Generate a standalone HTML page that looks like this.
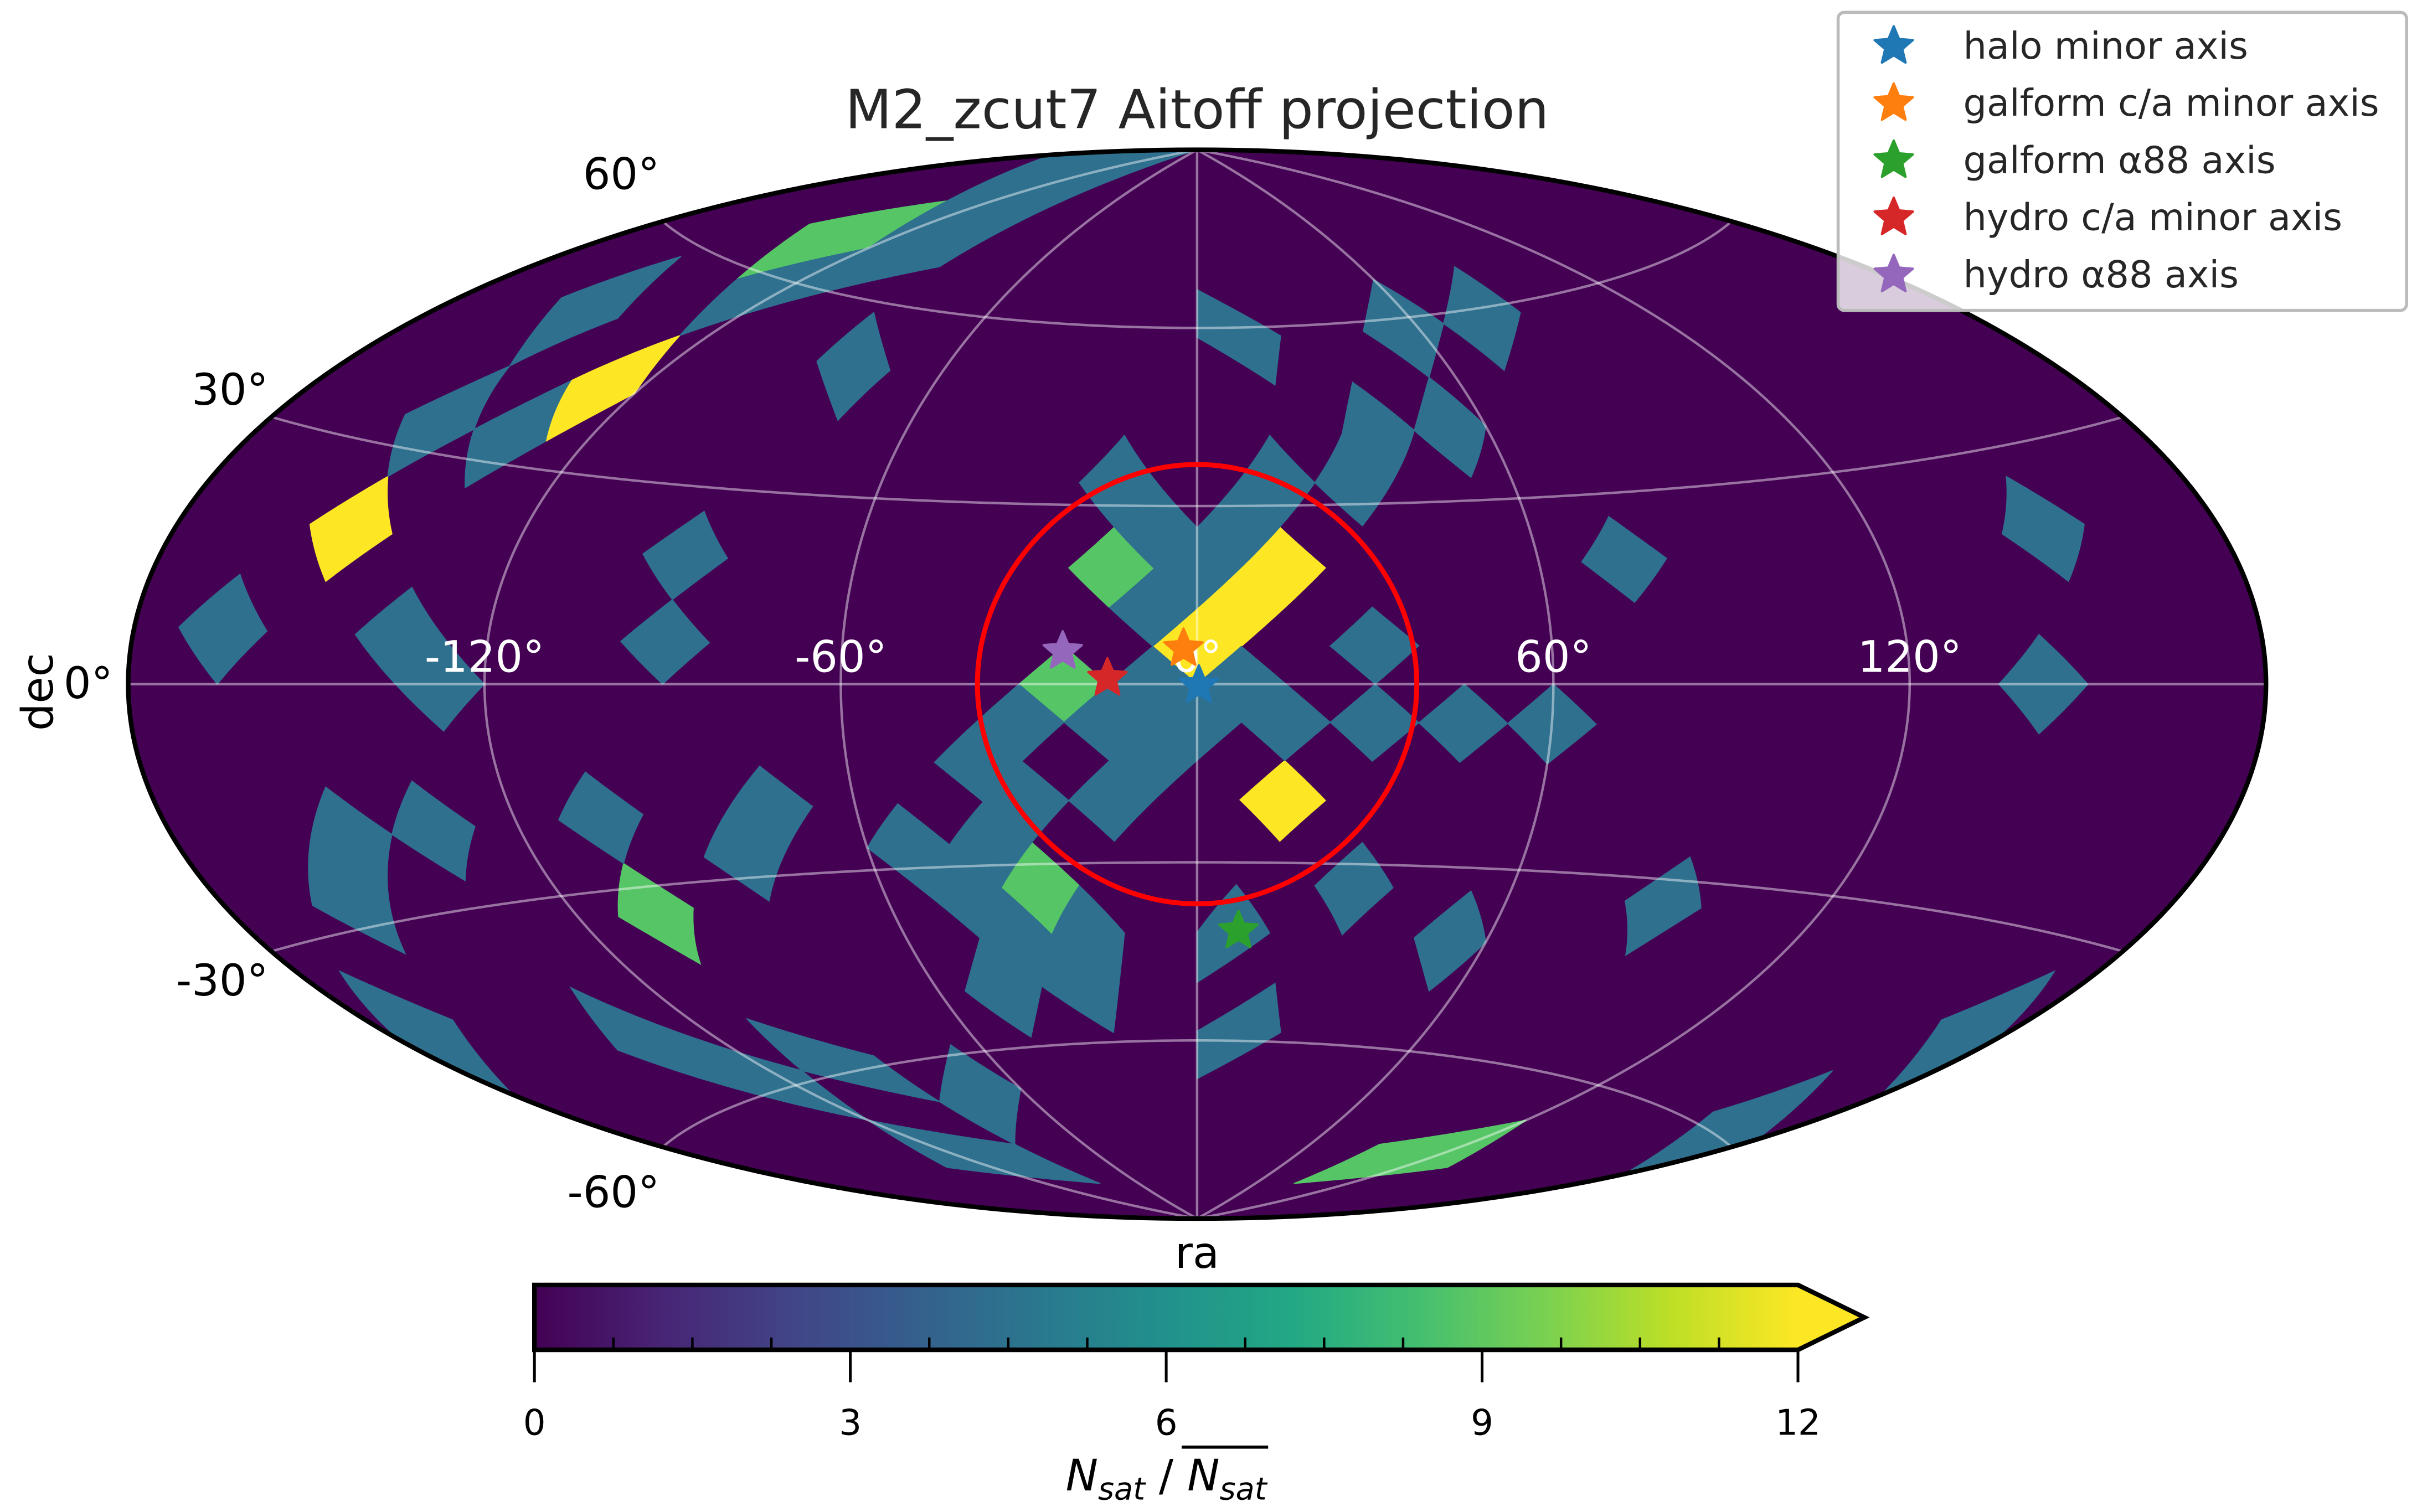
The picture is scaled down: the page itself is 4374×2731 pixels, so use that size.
<!DOCTYPE html>
<html><head><meta charset="utf-8"><style>
html,body{margin:0;padding:0;background:#fff;}
svg{display:block;font-family:"DejaVu Sans","Liberation Sans",sans-serif;}
</style></head><body>
<svg id="fig" xmlns="http://www.w3.org/2000/svg" width="4374" height="2731" viewBox="0 0 1568 979" preserveAspectRatio="none">
<defs>
<clipPath id="ellclip"><ellipse cx="775" cy="443" rx="692" ry="346"/></clipPath>
<linearGradient id="viridisGrad" x1="346" y1="0" x2="1164" y2="0" gradientUnits="userSpaceOnUse">
<stop offset="0" stop-color="#440154"/><stop offset="0.1" stop-color="#482475"/><stop offset="0.2" stop-color="#414487"/><stop offset="0.3" stop-color="#355f8d"/><stop offset="0.4" stop-color="#2a788e"/><stop offset="0.5" stop-color="#21918c"/><stop offset="0.6" stop-color="#22a884"/><stop offset="0.7" stop-color="#44bf70"/><stop offset="0.8" stop-color="#7ad151"/><stop offset="0.9" stop-color="#bddf26"/><stop offset="1" stop-color="#fde725"/>
</linearGradient>
</defs>
<text x="775" y="83" text-anchor="middle" font-size="35" fill="#262626">M2_zcut7 Aitoff projection</text>
<ellipse cx="775" cy="443" rx="692" ry="346" fill="#440154"/>
<g id="cells" clip-path="url(#ellclip)"></g>
<g id="grid" clip-path="url(#ellclip)"></g>
<ellipse cx="775" cy="443" rx="692" ry="346" fill="none" stroke="#000" stroke-width="3"/>
<g id="circle"></g>
<g id="lonlabels" font-size="28" fill="#fff" text-anchor="middle"></g>
<g id="latlabels" font-size="28" fill="#000" text-anchor="end"></g>
<g id="stars"></g>
<text x="0" y="0" transform="translate(34,448) rotate(-90)" text-anchor="middle" font-size="28" fill="#000">dec</text>
<text x="775" y="821" text-anchor="middle" font-size="28" fill="#000">ra</text>
<g id="colorbar">
<rect x="346" y="832" width="818" height="42" fill="url(#viridisGrad)"/>
<polygon points="1164,832 1207,853 1164,874" fill="#fde725"/>
<polygon points="346,832 1164,832 1207,853 1164,874 346,874" fill="none" stroke="#000" stroke-width="3"/>
</g>
<g id="cbticks"></g>
<text x="755" y="965" text-anchor="middle" font-size="28" fill="#000"><tspan font-style="italic">N</tspan><tspan font-style="italic" font-size="20" dy="6">sat</tspan><tspan dy="-6"> / </tspan><tspan font-style="italic">N</tspan><tspan font-style="italic" font-size="20" dy="6">sat</tspan></text>
<line x1="765" y1="937" x2="821" y2="937" stroke="#000" stroke-width="2"/>
<g id="legend">
<rect x="1190" y="8" width="368" height="193" rx="4" fill="#fff" fill-opacity="0.8" stroke="#bbb" stroke-width="2"/>
</g>
</svg>
<script>
// ---- data ----
const NSIDE = 6;
const cellRing = [11,10,9,15,9,6, 9,12,17,17,3,22,
 10,9,8,7,8,7,7,6,6,12,13,12,13,14,15,13,13,14,15,16,16,17,18,18,19,19,18,20,11,13,13,13,17,18,17,
 4,4,4,9,9,12, 1,2,3,4,5,7,7,5,9,11,11,11,12, 15,15,16,15,15,16, 18,19,20,20,21,22, 20,18];
const cellLon = [0,7.5,15,15,-150,-127.5, -15,-22.5,-30,-105,-135,112.5,
 -7.5,0,-7.5,-15,7.5,15,30,37.5,52.5,7.5,15,-7.5,0,-7.5,-15,-15,-30,-37.5,-30,-52.5,-37.5,-45,-37.5,-22.5,-27,-45,7.5,11.25,30,30,45,60,30,52.5,90,
 11.25,56.25,78.75,75,150,142.5, -135,-112.5,-105,-123.75,-153,-150,-135,-81,-90,-90,-165,-135,-127.5, -135,-150,-157.5,-105,-75,-82.5, -172.5,-135,-123.75,-101.25,-75,-112.5, 168.75,172.5];
const cellVal = [13,13,13,13,13,13, 8.8,8.8,8.8,8.8,8.8,8.8,
 4.4,4.4,4.4,4.4,4.4,4.4,4.4,4.4,4.4,4.4,4.4,4.4,4.4,4.4,4.4,4.4,4.4,4.4,4.4,4.4,4.4,4.4,4.4,4.4,4.4,4.4,4.4,4.4,4.4,4.4,4.4,4.4,4.4,4.4,4.4,
 4.4,4.4,4.4,4.4,4.4,4.4, 4.4,4.4,4.4,4.4,4.4,4.4,4.4,4.4,4.4,4.4,4.4,4.4,4.4, 4.4,4.4,4.4,4.4,4.4,4.4, 4.4,4.4,4.4,4.4,4.4,4.4, 4.4,4.4];
const starNames = ["halo-minor-axis","galform-ca-minor-axis","galform-a88-axis","hydro-ca-minor-axis","hydro-a88-axis"];
const starRa = [0.3,-2.3,8.5,-15.1,-22.7];
const starDec = [-0.2,6.0,-41.5,1.0,5.5];
const starColors = ["#1f77b4","#ff7f0e","#2ca02c","#d62728","#9467bd"];
const legendLabels = ["halo minor axis","galform c/a minor axis","galform \u03b188 axis","hydro c/a minor axis","hydro \u03b188 axis"];
const raTicks = [-120,-60,0,60,120];
const raTickLabels = ["-120\u00b0","-60\u00b0","0\u00b0","60\u00b0","120\u00b0"];
const decTicks = [60,30,0,-30,-60];
const decTickLabels = ["60\u00b0","30\u00b0","0\u00b0","-30\u00b0","-60\u00b0"];
const cbTicks = [0,3,6,9,12];
const cbMin = 0, cbMax = 12;
const circleRadiusDeg = 37;

// ---- geometry ----
const NS = "http://www.w3.org/2000/svg";
const CX = 775, CY = 443, RX = 692, RY = 346;
const PI = Math.PI;
function aitoff(lam, del) {
  if (lam > PI) lam = PI; if (lam < -PI) lam = -PI;
  const a = Math.acos(Math.max(-1, Math.min(1, Math.cos(del) * Math.cos(lam / 2))));
  const s = a < 1e-9 ? 1 : Math.sin(a) / a;
  const x = 2 * Math.cos(del) * Math.sin(lam / 2) / s;
  const y = Math.sin(del) / s;
  return [CX + x * RX / PI, CY - y * RY / (PI / 2)];
}
function projDeg(ra, dec) { return aitoff(ra * PI / 180, dec * PI / 180); }
function toPlane(phi, z) {
  if (Math.abs(z) <= 2 / 3) return [phi, 3 * PI / 8 * z];
  const sg = Math.sqrt(3 * (1 - Math.abs(z)));
  const pc = (Math.floor(phi / (PI / 2)) + 0.5) * PI / 2;
  return [pc + (phi - pc) * sg, Math.sign(z) * PI / 4 * (2 - sg)];
}
function fromPlane(x, y) {
  if (Math.abs(y) <= PI / 4) return [x, 8 * y / (3 * PI)];
  let sg = 2 - 4 * Math.abs(y) / PI; if (sg < 0) sg = 0;
  const z = Math.sign(y) * (1 - sg * sg / 3);
  const xc = (Math.floor(x / (PI / 2)) + 0.5) * PI / 2;
  let dx = x - xc; const lim = sg * PI / 4;
  if (dx > lim) dx = lim; if (dx < -lim) dx = -lim;
  return [sg > 1e-9 ? xc + dx / sg : xc, z];
}
function ringZ(i) {
  const N = NSIDE;
  if (i < N) return 1 - i * i / (3 * N * N);
  if (i <= 3 * N) return 4 / 3 - 2 * i / (3 * N);
  const k = 4 * N - i; return -(1 - k * k / (3 * N * N));
}
const viridis = ["#440154","#482475","#414487","#355f8d","#2a788e","#21918c","#22a884","#44bf70","#7ad151","#bddf26","#fde725"];
function hex2rgb(h){return [parseInt(h.substr(1,2),16),parseInt(h.substr(3,2),16),parseInt(h.substr(5,2),16)];}
function cmap(v) {
  let t = (v - cbMin) / (cbMax - cbMin); t = Math.max(0, Math.min(1, t));
  const f = t * 10, i = Math.min(9, Math.floor(f)), r = f - i;
  const a = hex2rgb(viridis[i]), b = hex2rgb(viridis[i + 1]);
  return "rgb(" + a.map((c, k) => Math.round(c + (b[k] - c) * r)).join(",") + ")";
}
function pathFrom(pts){return "M" + pts.map(p => p[0].toFixed(2) + "," + p[1].toFixed(2)).join("L");}

// ---- cells ----
const cellsG = document.getElementById("cells");
const d = PI / (4 * NSIDE);
for (let c = 0; c < cellRing.length; c++) {
  const lon0 = cellLon[c] * PI / 180;
  let phi = ((cellLon[c] % 360) + 360) % 360 * PI / 180;
  const z = ringZ(cellRing[c]);
  const [px, py] = toPlane(phi, z);
  const corners = [[px + d, py], [px, py + d], [px - d, py], [px, py - d], [px + d, py]];
  const pts = [];
  for (let e = 0; e < 4; e++) {
    for (let k = 0; k < 16; k++) {
      const t = k / 16;
      const x = corners[e][0] + (corners[e + 1][0] - corners[e][0]) * t;
      const y = corners[e][1] + (corners[e + 1][1] - corners[e][1]) * t;
      const [ph, zz] = fromPlane(x, y);
      let lam = ph;
      while (lam - lon0 > PI) lam -= 2 * PI;
      while (lam - lon0 < -PI) lam += 2 * PI;
      pts.push(aitoff(lam, Math.asin(Math.max(-1, Math.min(1, zz)))));
    }
  }
  const p = document.createElementNS(NS, "path");
  p.setAttribute("d", pathFrom(pts) + "Z");
  p.setAttribute("fill", cmap(cellVal[c]));
  p.setAttribute("stroke", cmap(cellVal[c]));
  p.setAttribute("stroke-width", "0.6");
  
  
  cellsG.appendChild(p);
}

// ---- graticule ----
const gridG = document.getElementById("grid");
function gridLine(pts, name) {
  const p = document.createElementNS(NS, "path");
  p.setAttribute("d", pathFrom(pts));
  p.setAttribute("fill", "none");
  p.setAttribute("stroke", "rgba(255,255,255,0.45)");
  p.setAttribute("stroke-width", "1.6");
  
  
  gridG.appendChild(p);
}
for (const lo of raTicks) { const pts = []; for (let dd = -90; dd <= 90; dd += 1) pts.push(projDeg(lo, dd)); gridLine(pts, "meridian-gridline"); }
for (const la of [60, 30, 0, -30, -60]) { const pts = []; for (let l = -180; l <= 180; l += 2) pts.push(projDeg(l, la)); gridLine(pts, "parallel-gridline"); }

// ---- red circle ----
(function(){
  const pts = []; const r = circleRadiusDeg * PI / 180;
  for (let k = 0; k <= 180; k++) {
    const t = k / 180 * 2 * PI;
    const dec = Math.asin(Math.sin(r) * Math.sin(t));
    const lam = Math.atan2(Math.sin(r) * Math.cos(t), Math.cos(r));
    pts.push(aitoff(lam, dec));
  }
  const p = document.createElementNS(NS, "path");
  p.setAttribute("d", pathFrom(pts) + "Z");
  p.setAttribute("fill", "none"); p.setAttribute("stroke", "#ff0000"); p.setAttribute("stroke-width", "3.2");
  
  
  document.getElementById("circle").appendChild(p);
})();

// ---- tick labels ----
const lonG = document.getElementById("lonlabels");
raTicks.forEach((lo, i) => {
  const [x, y] = projDeg(lo, 0);
  const t = document.createElementNS(NS, "text");
  t.setAttribute("x", x); t.setAttribute("y", 435); t.textContent = raTickLabels[i];
  
  
  lonG.appendChild(t);
});
const latG = document.getElementById("latlabels");
decTicks.forEach((la, i) => {
  const [x, y] = projDeg(-180, la);
  const dy = la > 0 ? 5 - 0.433 * la : (la < 0 ? 18 + 0.35 * Math.abs(la) : 9);
  const dx = la === 0 ? -10 : -2;
  const t = document.createElementNS(NS, "text");
  t.setAttribute("x", x + dx); t.setAttribute("y", y + dy); t.textContent = decTickLabels[i];
  
  
  latG.appendChild(t);
});

// ---- stars ----
function starPath(cx, cy, R) {
  const pts = [];
  for (let k = 0; k < 10; k++) {
    const rr = k % 2 === 0 ? R : R * 0.45;
    const a = -PI / 2 + k * PI / 5;
    pts.push([cx + rr * Math.cos(a), cy + rr * Math.sin(a)]);
  }
  return pathFrom(pts) + "Z";
}
const starsG = document.getElementById("stars");
starRa.forEach((ra, i) => {
  const [x, y] = projDeg(ra, starDec[i]);
  const p = document.createElementNS(NS, "path");
  p.setAttribute("d", starPath(x, y, 13));
  p.setAttribute("fill", starColors[i]); p.setAttribute("stroke", starColors[i]); p.setAttribute("stroke-width", "1.5"); p.setAttribute("stroke-linejoin", "round");
  
  
  starsG.appendChild(p);
});

// ---- colorbar ticks ----
const cbG = document.getElementById("cbticks");
function cbX(v) { return 346 + (v - cbMin) / (cbMax - cbMin) * 818; }
function mkLine(x1, y1, x2, y2, w, name) {
  const l = document.createElementNS(NS, "line");
  l.setAttribute("x1", x1); l.setAttribute("y1", y1); l.setAttribute("x2", x2); l.setAttribute("y2", y2);
  l.setAttribute("stroke", "#000"); l.setAttribute("stroke-width", w);
  
  
  cbG.appendChild(l);
}
for (let v = cbMin; v <= cbMax + 1e-9; v += 0.75) {
  if (Math.abs(v / 3 - Math.round(v / 3)) < 1e-6) continue;
  mkLine(cbX(v), 874, cbX(v), 866, 1.6, "colorbar-minor-tick");
}
cbTicks.forEach(v => {
  mkLine(cbX(v), 874, cbX(v), 895, 1.8, "colorbar-major-tick");
  const t = document.createElementNS(NS, "text");
  t.setAttribute("x", cbX(v)); t.setAttribute("y", 929); t.setAttribute("text-anchor", "middle"); t.setAttribute("font-size", "23");
  t.textContent = String(v);
  
  
  cbG.appendChild(t);
});

// ---- legend ----
const legG = document.getElementById("legend");
legendLabels.forEach((lab, i) => {
  const y = 30 + i * 37;
  const p = document.createElementNS(NS, "path");
  p.setAttribute("d", starPath(1226, y, 13));
  p.setAttribute("fill", starColors[i]); p.setAttribute("stroke", starColors[i]); p.setAttribute("stroke-width", "1.5"); p.setAttribute("stroke-linejoin", "round");
  
  
  legG.appendChild(p);
  const t = document.createElementNS(NS, "text");
  t.setAttribute("x", 1271); t.setAttribute("y", y + 8); t.setAttribute("font-size", "24"); t.setAttribute("fill", "#262626");
  t.textContent = lab;
  
  
  legG.appendChild(t);
});
</script>
</body></html>
